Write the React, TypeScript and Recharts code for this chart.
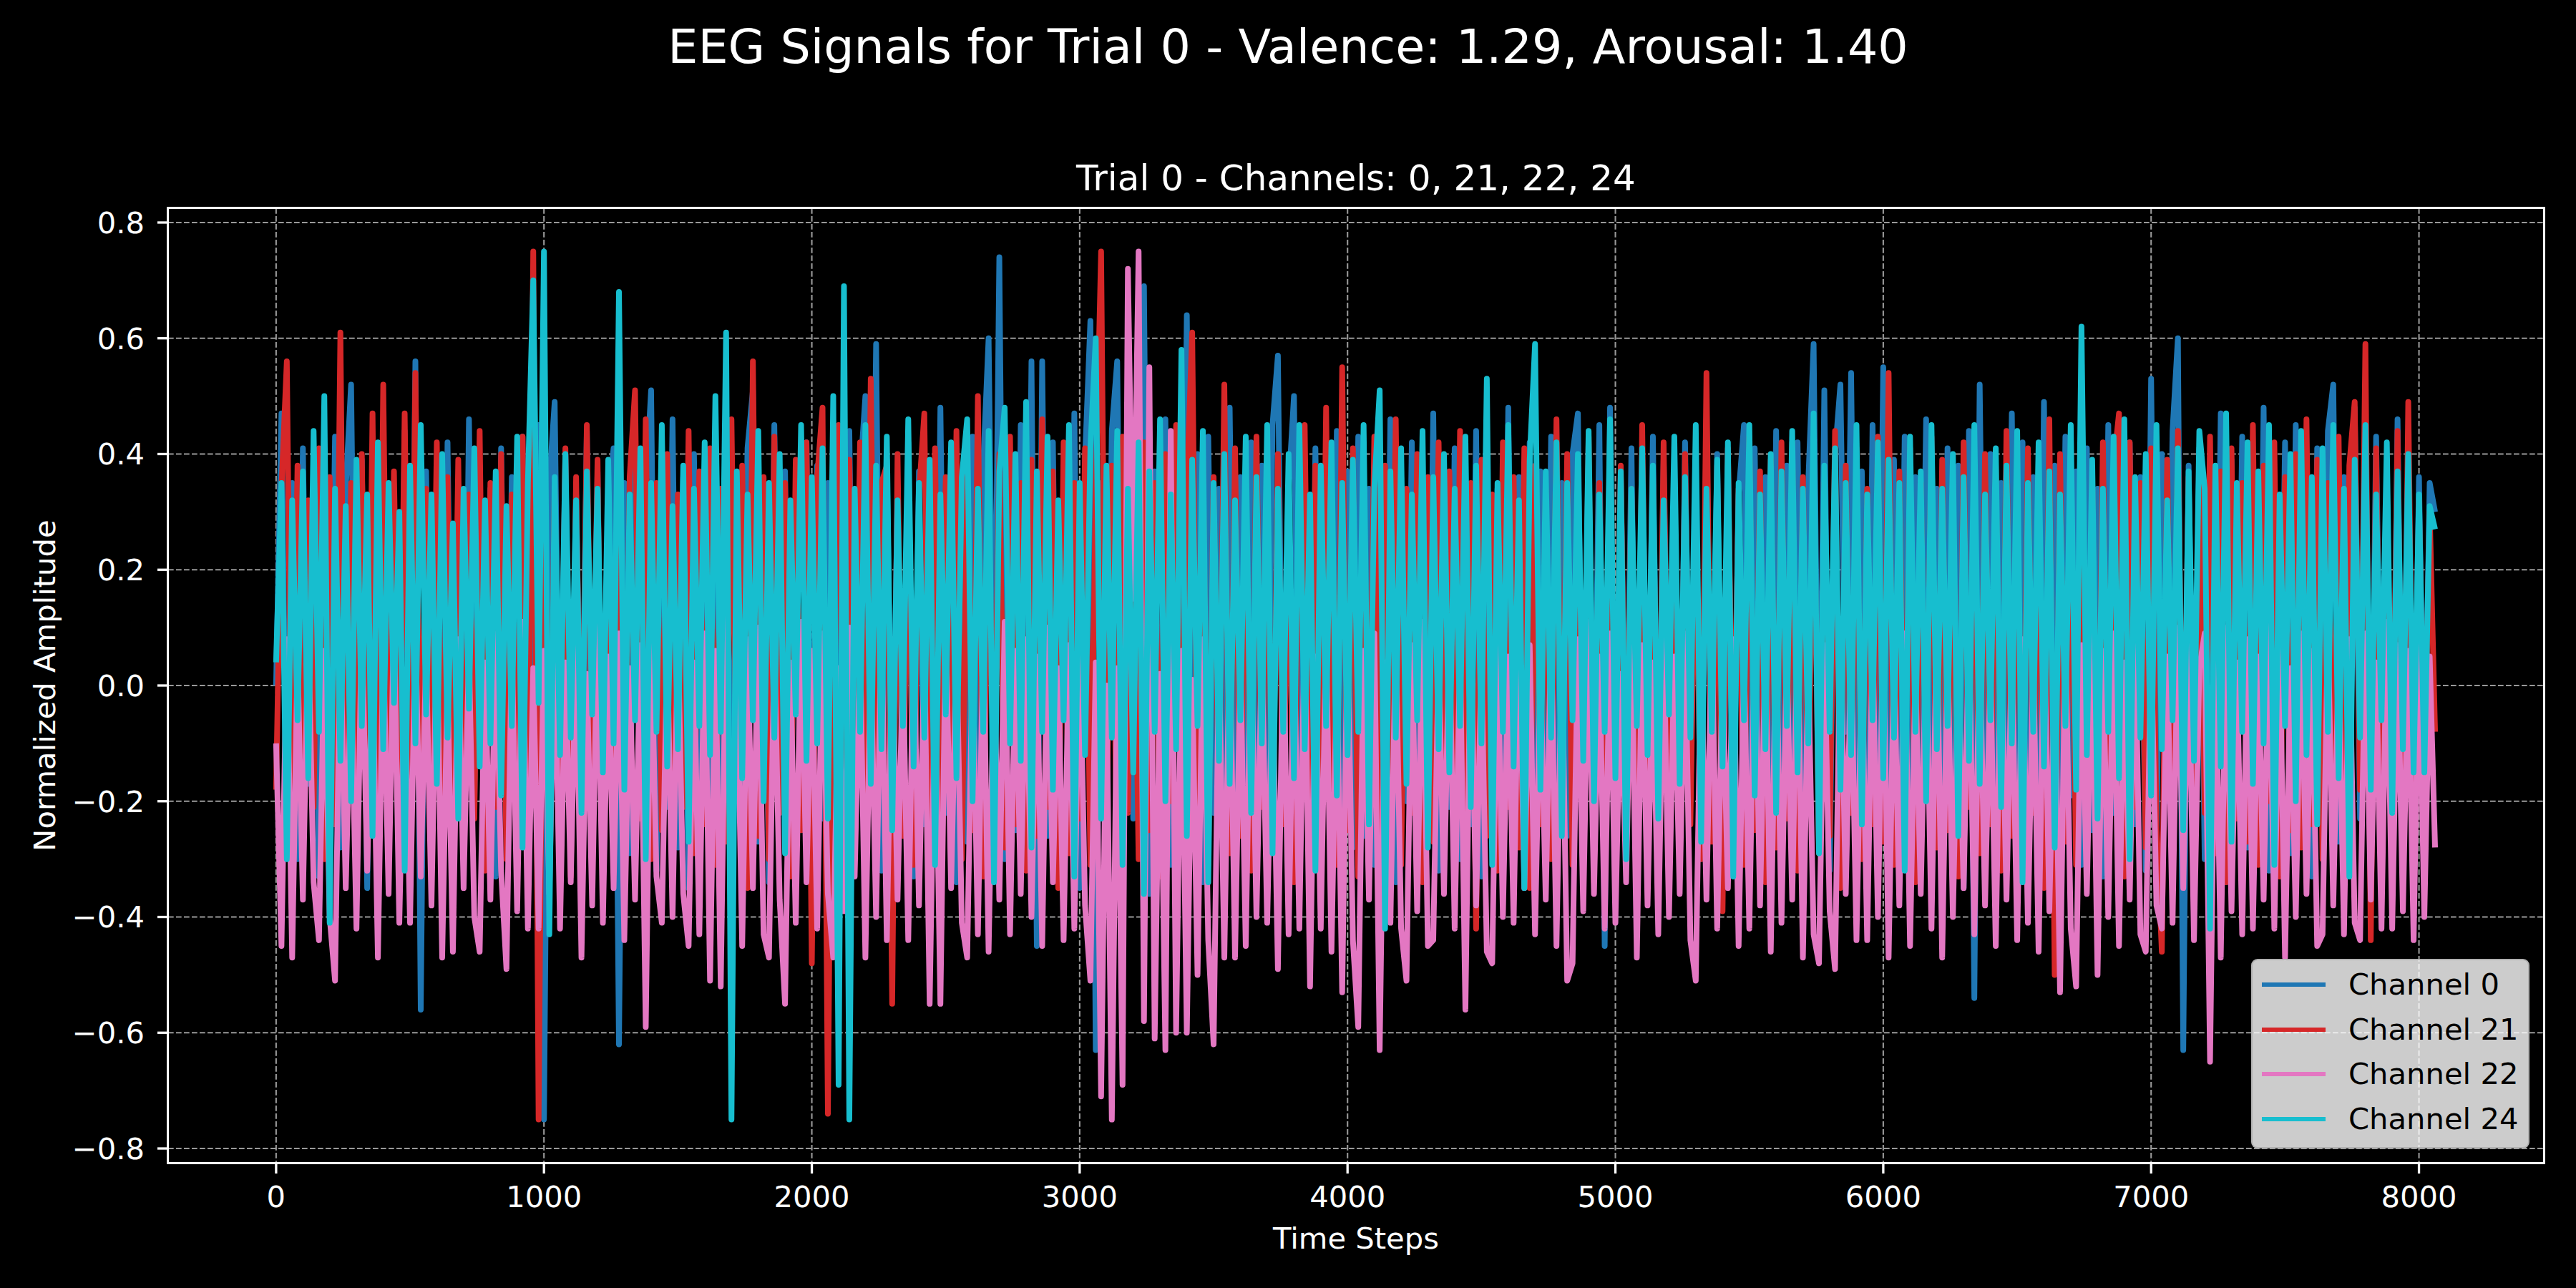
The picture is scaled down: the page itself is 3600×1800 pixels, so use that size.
import { LineChart, Line, XAxis, YAxis, CartesianGrid, Legend } from 'recharts'

// samples are taken every TIME_STEP steps; values in hundredths
const TIME_STEP = 20

const ch0 = [
  0, 47, -26, 35, -30, 41, -17, 32, -33, 38, -22, 43, -28, 34, 52, -24, 39, -35, 36, -20,
  40, -29, 33, -23, 44, -32, 56, -56, 37, -19, 35, -34, 42, -25, 32, -31, 46, -21, 38, -28,
  34, -33, 41, -20, 36, -27, 43, -36, 39, 45, -75, 35, 49, -24, 40, -30, 33, -22, 44, -34,
  37, -26, 32, 41, -62, 35, -29, 42, -23, 34, 51, -32, 38, -21, 46, -28, 36, -35, 40, -19,
  33, -31, 43, -24, 39, -33, 35, -20, 41, 51, -27, 34, -34, 45, -22, 37, -29, 32, -25, 42,
  -30, 38, -23, 35, -35, 40, -21, 44, -28, 36, 50, -16, 59, -32, 39, -26, 33, -20, 42, -33,
  37, -24, 34, -29, 48, -22, 41, -34, 36, -27, 43, -19, 38, 60, -13, 74, -30, 40, -25, 45,
  -28, 56, -45, 56, -26, 42, -32, 36, -21, 47, -35, 39, 63, -63, 35, -27, 44, 56, -29, 38,
  -23, 41, 69, -36, 37, -25, 46, -31, 35, -20, 64, -28, 40, -34, 43, -22, 34, -30, 48, -26,
  36, -33, 42, -21, 38, -29, 45, 57, -24, 34, 50, -27, 39, -32, 41, -19, 35, -35, 44, -23,
  37, -28, 43, -26, 34, -31, 40, -22, 46, -34, 36, -20, 42, -29, 33, -25, 47, -32, 38, -21,
  41, -30, 35, -24, 44, -33, 39, -19, 34, -27, 48, -35, 36, -23, 42, -28, 37, -32, 43, -20,
  35, -26, 40, 47, -29, 38, -22, 45, -45, 48, -31, 36, -24, 41, -34, 34, -21, 43, -28, 39,
  -25, 37, -32, 42, -20, 35, -30, 46, -23, 40, -35, 38, -27, 33, 45, -29, 41, -22, 36, -33,
  44, -24, 38, -30, 42, -21, 35, 59, -28, 51, -32, 40, 52, -8, 54, -26, 37, -34, 45, -23,
  55, -29, 39, -25, 43, -33, 36, -20, 46, -31, 34, -27, 41, -22, 38, -35, 44, -54, 52, -24,
  40, -30, 35, -21, 47, -32, 42, -26, 36, -34, 49, -23, 38, -28, 43, -19, 37, -31, 41, -25,
  34, -33, 45, -22, 39, -29, 42, -24, 36, -32, 53, -27, 40, -20, 44, 60, -63, 38, -26, 41,
  -30, 35, -23, 47, -34, 39, -21, 43, -28, 37, -25, 48, -32, 36, -19, 42, -29, 45, -24, 38,
  -33, 41, -22, 44, 52, -27, 36, -31, 48, -23, 40, -29, 43, -20, 35, -34, 46, -26, 39, -28,
  36, -20, 35, 30,
]

const ch21 = [
  -18, 34, 56, -27, 38, -32, 32, -21, 41, -30, 36, -24, 61, -33, 35, -20, 40, -28, 47, -35,
  52, -26, 37, -22, 47, -28, 54, -31, 34, -19, 42, -34, 36, -25, 39, -29, 33, -23, 44, -32,
  35, -21, 40, -30, 33, -27, 43, -24, 75, -75, 38, -29, 34, -22, 41, -33, 36, -26, 45, -20,
  39, -37, 34, -28, 42, -32, 36, 51, -23, 46, -30, 35, -25, 40, -34, 33, -21, 44, -29, 37,
  -24, 41, -31, 34, -27, 46, -20, 38, -35, 56, -26, 36, -30, 43, -22, 35, -33, 39, -25, 42,
  -48, 36, 48, -74, 34, 45, -29, 39, -24, 42, -32, 53, -21, 35, 38, -55, 40, -26, 37, -31,
  33, 47, -27, 41, -34, 36, -22, 44, -30, 38, -25, 50, -33, 34, -20, 40, -28, 43, -24, 35,
  -32, 39, -26, 46, -21, 37, -35, 42, -29, 35, -23, 41, -31, 34, 75, -27, 38, -34, 43, -22,
  36, -30, 42, -25, 35, -33, 40, -20, 45, -28, 34, 61, -24, 39, -31, 36, -22, 52, -29, 41,
  -26, 37, -32, 43, -21, 35, -29, 40, -24, 34, -34, 39, 45, -27, 38, -30, 48, -23, -31, 55,
  -25, 41, -33, 35, -20, 43, -28, 38, -24, 46, -31, 34, -22, 40, -34, 36, -27, 42, -21, 37,
  -29, 44, -23, 35, -42, 39, -26, 33, -32, 42, -21, 36, -28, 41, -35, 38, -24, 34, -30, 46,
  -22, 40, -31, 36, -25, 43, -34, 35, -20, 41, -29, 38, -23, 34, -32, 45, -26, 37, -28, 42,
  -21, 36, -33, 40, -24, 35, -30, 54, -27, 38, -39, 41, -22, 34, -31, 43, -25, 37, -34, 39,
  -28, 42, -23, 42, -32, 36, -21, 40, -29, 35, -26, 44, -35, 38, -22, 41, -30, 34, -24, 43,
  -27, 54, -31, 37, -23, 41, -34, 35, -20, 43, -28, 39, -25, 34, -33, 42, -21, 36, -29, 40,
  -24, 38, -32, 44, -26, 35, -30, 41, -22, 37, -35, 46, -50, 40, -27, 34, -31, 43, -23, 36,
  -29, 42, -25, 38, 47, -33, 42, -21, 35, -28, 41, -24, -46, 39, -30, 44, -26, 36, -32, 40,
  -22, 43, -29, 37, -34, 41, -23, 35, -27, 45, -31, 38, -20, 42, -33, 36, -25, 40, -28, 46,
  -24, 39, -30, 35, -26, 43, -32, 38, 49, -18, 59, -44, 41, -28, 36, -23, 44, -31, 49, -25,
  32, -18, 30, -8,
]

const ch22 = [
  -10, -45, 8, -47, 5, -37, 10, -34, -44, 6, -40, -51, 9, -35, 3, -42, 11, -32, 4, -47,
  7, -36, 12, -41, 2, -41, 9, -33, 5, -38, 10, -47, 1, -46, 8, -35, 6, -40, -46, 4,
  -37, 9, -32, -49, 7, -39, 11, -42, 3, -42, 6, -36, 10, -42, 4, -34, 8, -47, 2, -38,
  11, -41, 5, -35, 9, -44, 3, -37, 7, -59, 10, -33, -41, 6, -40, 8, -36, -45, 4, -43,
  9, -51, 6, -52, 12, -38, 5, -45, 8, -35, 10, -43, -47, 7, -37, -55, 4, -41, 11, -34,
  6, -42, 9, -36, -47, 3, -39, 10, -33, 7, -47, 5, -40, 11, -44, 8, -37, 4, -44, 9,
  -38, 6, -55, 2, -55, 10, -35, 7, -41, -47, 5, -43, 9, -46, 4, -37, 11, -43, 6, -36,
  8, -40, 5, -45, 10, -34, 3, -44, 7, -42, 9, -38, -51, 4, -71, 0, -75, 3, -69, 72,
  15, 75, -58, 55, -61, 2, -63, 44, -60, 6, -60, 1, -50, 8, -44, -62, 5, -47, 9, -47,
  4, -45, 10, -40, 6, -41, 2, -49, 9, -43, 7, -42, 11, -52, 5, -42, 8, -46, 3, -53,
  10, -44, -59, 6, -37, 9, -63, 4, -41, 8, -42, -51, 7, -39, 11, -45, -44, 5, -36, 9,
  -42, 6, -56, 10, -38, 4, -46, -48, 8, -40, 5, -41, 12, -35, 7, -43, 3, -37, 9, -45,
  6, -51, -48, 8, -39, 11, -36, 5, -42, 9, -41, 2, -34, 10, -47, 7, -38, 4, -43, 8,
  -40, 5, -36, 9, -44, -51, 6, -37, 10, -42, 3, -35, 8, -45, 4, -42, 11, -38, 7, -46,
  9, -41, 5, -37, 10, -47, 3, -43, -48, 7, -39, -49, 11, -36, 6, -44, 4, -44, 8, -40,
  10, -47, 5, -38, 9, -45, 2, -36, 8, -42, 11, -47, 6, -40, 4, -35, 9, -43, 7, -38,
  3, -45, 10, -37, 6, -44, 8, -41, 5, -46, 11, -39, 4, -53, 9, -42, -52, 7, -36, 10,
  -50, 6, -40, 9, -45, 4, -37, 11, -43, -46, 7, -38, -42, 5, -41, 10, -35, 8, -44, 3,
  9, -65, 6, -47, 10, -39, 4, -43, 8, -42, 5, -37, 11, -42, 7, -47, 3, -40, 9, -36,
  6, -45, -43, 10, -38, 5, -43, 8, -41, -44, 9, -37, 4, -42, 11, -42, 7, -39, 6, -44,
  8, -40, 5, -28,
]

const ch24 = [
  4, 35, -30, 32, -6, 37, -16, 44, -8, 50, -41, 34, -13, 31, -20, 39, -7, 33, -26, 42,
  -11, 35, -3, 30, -32, 38, -10, 45, -5, 33, -17, 40, -9, 28, -23, 34, -4, 41, -14, 32,
  -10, 37, -19, 31, -7, 43, -28, 35, 70, -3, 75, -43, 36, -12, 40, -9, 32, -22, 37, -5,
  34, -15, 39, -10, 68, -18, 33, -6, 41, -30, 35, -8, 45, -14, 31, -11, 38, -27, 34, -7,
  42, -12, 50, -8, 61, -75, 37, -16, 33, -6, 44, -20, 35, -9, 40, -29, 32, -5, 45, -13,
  36, -10, 41, -23, 50, -69, 69, -75, 34, -8, 45, -17, 38, -11, 43, -25, 32, -7, 46, -14,
  35, -9, 39, -31, 33, -5, 42, -16, 36, 46, -20, 34, -8, 44, -34, 37, 48, -10, 40, -13,
  49, -28, 37, -8, 43, -18, 32, -6, 45, -33, 35, -12, 41, 60, -23, 38, -9, 44, -31, 34,
  -15, 42, -36, 37, -8, 46, -20, 33, -11, 58, -26, 39, -7, 44, -34, 35, -13, 40, -17, 32,
  -6, 43, -22, 36, -10, 45, -29, 34, -8, 40, -16, 45, -11, 33, -32, 38, -7, 42, -19, 35,
  -12, 39, -8, 45, -24, 34, 51, -42, 37, -9, 41, -17, 33, -6, 44, -28, 36, -11, 40, -15,
  34, -7, 43, -21, 38, -10, 53, -31, 35, -8, 45, -14, 32, -35, 39, 59, -18, 37, -9, 42,
  -26, 35, -6, 40, -13, 44, -20, 33, -8, 46, -16, 37, -30, 34, -7, 41, -12, 38, -23, 32,
  -5, 43, -17, 36, -9, 45, -27, 34, -8, 39, -14, 42, -33, 35, -6, 45, -19, 33, -11, 40,
  -22, 37, -7, 44, -15, 34, -10, 47, -29, 38, -8, 41, -18, 35, -12, 45, -24, 33, -6, 42,
  -16, 39, -9, 35, -32, 43, -8, 37, -20, 45, -11, 34, -7, 40, -26, 36, -13, 45, -17, 33,
  -6, 41, -21, 38, -10, 44, -34, 35, -8, 42, -14, 37, -28, 33, -7, 45, -18, 62, -12, 39,
  -23, 34, -8, 43, -16, 46, -30, 36, -9, 40, -19, 45, -11, 32, -6, 41, -25, 37, -13, 44,
  34, -42, 38, -14, 47, -27, 35, -8, 42, -17, 37, -10, 45, -31, 33, -7, 40, -20, 44, -12,
  36, -24, 41, -8, 45, -16, 34, -33, 39, -9, 45, -18, 33, -6, 42, -22, 37, -11, 40, -15,
  33, -15, 31, 27,
]

const X_TICKS = [0, 1000, 2000, 3000, 4000, 5000, 6000, 7000, 8000]
const Y_TICKS = [-0.8, -0.6, -0.4, -0.2, 0, 0.2, 0.4, 0.6, 0.8]

const SERIES = [
  { key: 'ch0', name: 'Channel 0', color: '#1f77b4' },
  { key: 'ch21', name: 'Channel 21', color: '#d62728' },
  { key: 'ch22', name: 'Channel 22', color: '#e377c2' },
  { key: 'ch24', name: 'Channel 24', color: '#17becf' },
]

const data = ch0.map((_, i) => ({
  t: i * TIME_STEP,
  ch0: ch0[i] / 100,
  ch21: ch21[i] / 100,
  ch22: ch22[i] / 100,
  ch24: ch24[i] / 100,
}))

const FONT = '"DejaVu Sans", "Liberation Sans", sans-serif'
const TICK_STYLE = { fill: '#ffffff', fontSize: 41.7, fontFamily: FONT }

// plot box in page pixels
const PLOT = { left: 235, top: 291, right: 3555, bottom: 1625 }

const fmtY = (v: number) => (v < 0 ? '\u2212' : '') + Math.abs(v).toFixed(1)

const LegendBox = () => (
  <div
    style={{
      position: 'relative',
      width: 389,
      height: 265,
      boxSizing: 'border-box',
      background: 'rgba(255,255,255,0.8)',
      border: '2px solid rgba(170,170,170,0.8)',
      borderRadius: 9,
      fontFamily: FONT,
    }}
  >
    {SERIES.map((s, i) => (
      <div
        key={s.key}
        style={{
          position: 'absolute',
          left: 13,
          top: 34 + i * 62.5 - 27,
          height: 54,
          display: 'flex',
          alignItems: 'center',
          whiteSpace: 'nowrap',
        }}
      >
        <div style={{ width: 89, height: 6, background: s.color }} />
        <span style={{ marginLeft: 32, fontSize: 41.7, lineHeight: '54px', color: '#000' }}>{s.name}</span>
      </div>
    ))}
  </div>
)

export default function App() {
  return (
    <div style={{ position: 'absolute', left: 0, top: 0, width: 3600, height: 1800, background: '#000', fontFamily: FONT }}>
      <LineChart
        width={3600}
        height={1800}
        data={data}
        margin={{ top: PLOT.top, right: 3600 - PLOT.right, bottom: 1800 - PLOT.bottom - 120, left: PLOT.left - 200 }}
      >
        <CartesianGrid stroke="#999999" strokeWidth={2.1} strokeDasharray="7.7 3.3" />
        <XAxis
          dataKey="t"
          type="number"
          domain={[-403, 8466]}
          ticks={X_TICKS}
          allowDataOverflow
          height={120}
          axisLine={false}
          tickSize={15}
          tickMargin={17}
          tickLine={{ stroke: '#ffffff', strokeWidth: 3.3 }}
          tick={TICK_STYLE}
        />
        <YAxis
          type="number"
          domain={[-0.8247, 0.8247]}
          ticks={Y_TICKS}
          allowDataOverflow
          width={200}
          axisLine={false}
          tickSize={15}
          tickMargin={18}
          tickLine={{ stroke: '#ffffff', strokeWidth: 3.3 }}
          tick={TICK_STYLE}
          tickFormatter={fmtY}
        />
        {/* thick strokes so the sampled trace reads as a dense band like the raw signal */}
        {SERIES.map((s) => (
          <Line
            key={s.key}
            type="linear"
            dataKey={s.key}
            name={s.name}
            stroke={s.color}
            strokeWidth={8}
            strokeLinejoin="round"
            dot={false}
            activeDot={false}
            isAnimationActive={false}
          />
        ))}
        <Legend
          layout="vertical"
          align="center"
          verticalAlign="middle"
          content={<LegendBox />}
          wrapperStyle={{ position: 'absolute', left: 3146, top: 1340, width: 389, height: 265 }}
        />
      </LineChart>

      {/* axes frame */}
      <div
        style={{
          position: 'absolute',
          left: PLOT.left - 1.6,
          top: PLOT.top - 1.6,
          width: PLOT.right - PLOT.left + 3.2,
          height: PLOT.bottom - PLOT.top + 3.2,
          boxSizing: 'border-box',
          border: '3.3px solid #ffffff',
          pointerEvents: 'none',
        }}
      />

      <svg width={3600} height={1800} style={{ position: 'absolute', left: 0, top: 0, pointerEvents: 'none' }}>
        <text x={1800} y={88} fill="#ffffff" fontSize={66.7} fontFamily={FONT} textAnchor="middle">
          EEG Signals for Trial 0 - Valence: 1.29, Arousal: 1.40
        </text>
        <text x={1895} y={266} fill="#ffffff" fontSize={50} fontFamily={FONT} textAnchor="middle">
          Trial 0 - Channels: 0, 21, 22, 24
        </text>
        <text x={1895} y={1745} fill="#ffffff" fontSize={41.7} fontFamily={FONT} textAnchor="middle">
          Time Steps
        </text>
        <text
          x={0}
          y={0}
          transform="translate(77, 958) rotate(-90)"
          fill="#ffffff"
          fontSize={41.7}
          fontFamily={FONT}
          textAnchor="middle"
        >
          Normalized Amplitude
        </text>
      </svg>
    </div>
  )
}
